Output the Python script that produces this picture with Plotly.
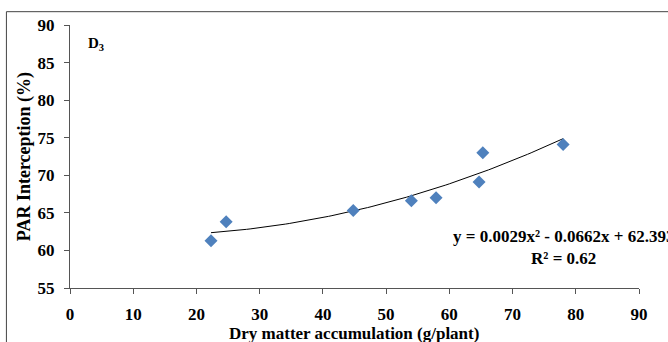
import numpy as np
import plotly.graph_objects as go

# Data
dry_matter = [22.3, 24.7, 44.8, 54.0, 57.9, 64.7, 65.3, 78.0]
par_interception = [61.3, 63.8, 65.3, 66.6, 67.0, 69.1, 73.0, 74.1]
trend_coeffs = [0.0029, -0.0662, 62.393]  # y = a x^2 + b x + c (as shown)
x_ticks = [0, 10, 20, 30, 40, 50, 60, 70, 80, 90]
y_ticks = [55, 60, 65, 70, 75, 80, 85, 90]

W, H = 668, 342
L, R, T, B = 69.6, 668 - 638.7, 25.3, 342 - 288
pw, ph = W - L - R, H - T - B

tx = np.linspace(min(dry_matter), max(dry_matter), 100)
ty = np.polyval(trend_coeffs, tx)

font = "Liberation Serif, Times New Roman, serif"

fig = go.Figure()
fig.add_trace(go.Scatter(x=tx, y=ty, mode="lines",
                         line=dict(color="black", width=1), hoverinfo="skip"))
fig.add_trace(go.Scatter(x=dry_matter, y=par_interception, mode="markers",
                         marker=dict(symbol="diamond", size=10, color="#4F81BD",
                                     line=dict(width=0))))

def px2paper_x(px):
    return (px - L) / pw

def px2paper_y(py):
    return (H - B - py) / ph

fig.add_shape(type="rect", xref="paper", yref="paper",
              x0=px2paper_x(6), x1=px2paper_x(700),
              y0=px2paper_y(400), y1=px2paper_y(12),
              line=dict(color="#444", width=1), fillcolor="rgba(0,0,0,0)",
              layer="below")

eq = "y = {:.4f}x² - {:.4f}x + {:.3f}<br>R² = 0.62".format(
    trend_coeffs[0], abs(trend_coeffs[1]), trend_coeffs[2])
fig.add_annotation(x=78.0, y=60.4, xref="x", yref="y", text=eq,
                   showarrow=False, align="center", xanchor="center", yanchor="middle",
                   font=dict(family=font, size=17, color="black", weight="bold"))
fig.add_annotation(x=px2paper_x(86), y=px2paper_y(44), xref="paper", yref="paper",
                   text="D<sub>3</sub>", showarrow=False,
                   xanchor="left", yanchor="middle",
                   font=dict(family=font, size=15, color="black", weight="bold"))
# axis titles
fig.add_annotation(x=px2paper_x(24), y=px2paper_y(157), xref="paper", yref="paper",
                   text="PAR Interception (%)", showarrow=False, textangle=-90,
                   xanchor="center", yanchor="middle",
                   font=dict(family=font, size=18, color="black", weight="bold"))
fig.add_annotation(x=px2paper_x(354), y=px2paper_y(333), xref="paper", yref="paper",
                   text="Dry matter accumulation (g/plant)", showarrow=False,
                   xanchor="center", yanchor="middle",
                   font=dict(family=font, size=17, color="black", weight="bold"))

axis_common = dict(showgrid=False, zeroline=False, showline=True, linecolor="#555",
                   linewidth=1, ticks="outside", ticklen=5, tickcolor="#555",
                   ticklabelstandoff=6, automargin=False,
                   tickfont=dict(family=font, size=17, color="black", weight="bold"))

fig.update_layout(
    width=W, height=H, margin=dict(l=L, r=R, t=T, b=B),
    paper_bgcolor="white", plot_bgcolor="white", showlegend=False,
    xaxis=dict(range=[0, 90], tickvals=x_ticks, **axis_common),
    yaxis=dict(range=[55, 90], tickvals=y_ticks, **axis_common),
)

fig.write_html("out.html")
